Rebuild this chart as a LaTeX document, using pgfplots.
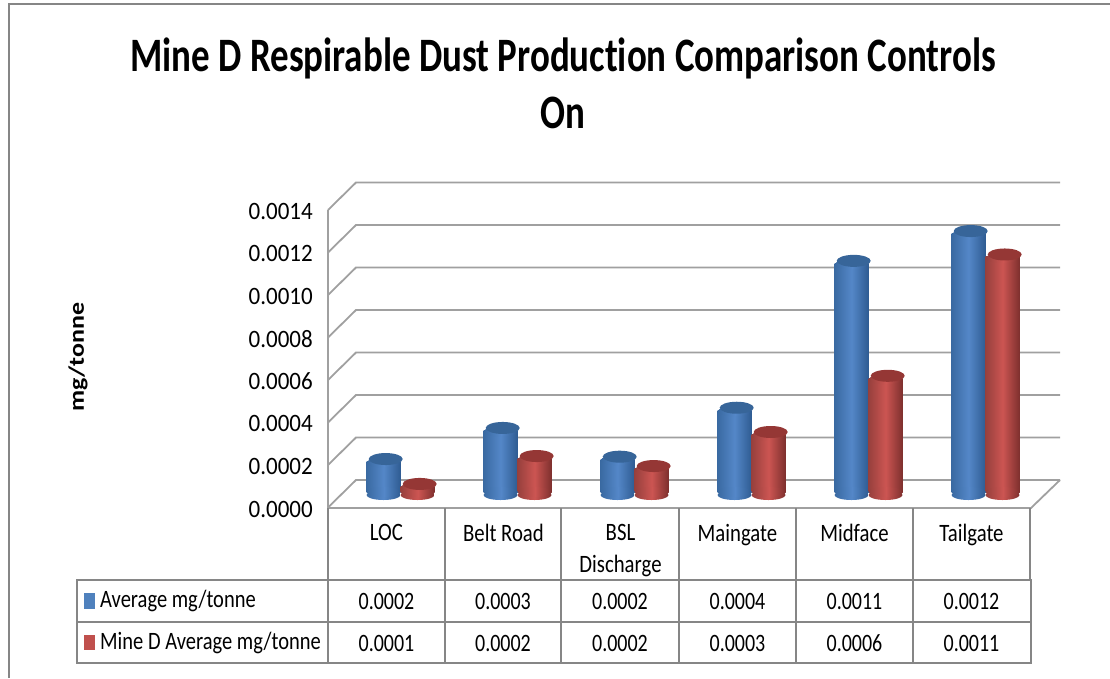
\documentclass[border=0pt]{standalone}
\usepackage{fontspec}
\usepackage{pgfplots}
\usepackage{pgfplotstable}
\pgfplotsset{compat=1.18}
\setmainfont{Carlito}
\newfontfamily\titlef[FakeStretch=0.77,Ligatures=NoCommon]{Carlito}
\newfontfamily\tickf[FakeStretch=0.92]{Carlito}
\newfontfamily\tabf[FakeStretch=0.80]{Carlito}
\newfontfamily\legf[FakeStretch=0.82,Ligatures=NoCommon]{Carlito}
\newfontfamily\catf[FakeStretch=0.83,Ligatures=NoCommon]{Carlito}
\newfontfamily\ylabf[FakeStretch=1.18]{Carlito}
\definecolor{gridc}{HTML}{A0A0A0}
\definecolor{tabc}{HTML}{868686}
\definecolor{bl}{HTML}{4F81BD}
\definecolor{blmid}{HTML}{5487C8}
\definecolor{blL}{HTML}{3A6AA2}
\definecolor{blR}{HTML}{2F5C92}
\definecolor{blcap}{HTML}{376599}
\definecolor{rd}{HTML}{C0504D}
\definecolor{rdmid}{HTML}{CC5552}
\definecolor{rdL}{HTML}{97403D}
\definecolor{rdR}{HTML}{7E302E}
\definecolor{rdcap}{HTML}{953735}
\tikzset{
  blshade/.style={draw=none,left color=blL,right color=blR,middle color=blmid},
  rdshade/.style={draw=none,left color=rdL,right color=rdR,middle color=rdmid},
}
\pgfdeclareplotmark{blbot}{%
  \path[blshade,rotate=10] (0pt,13pt) ellipse (17pt and 5pt);
  \path[blshade,rotate=10] (0.4pt,16pt) ellipse (17pt and 5pt);}
\pgfdeclareplotmark{rdbot}{%
  \path[rdshade,rotate=10] (0pt,13pt) ellipse (17pt and 5pt);
  \path[rdshade,rotate=10] (0.4pt,16pt) ellipse (17pt and 5pt);}
\pgfdeclareplotmark{bltop}{%
  \path[blshade,rotate=10] (0.4pt,9.5pt) ellipse (17pt and 5pt);
  \path[draw=none,fill=blcap,rotate=10] (2.2pt,13pt) ellipse (17pt and 6pt);}
\pgfdeclareplotmark{rdtop}{%
  \path[rdshade,rotate=10] (0.4pt,9.5pt) ellipse (17pt and 5pt);
  \path[draw=none,fill=rdcap,rotate=10] (2.2pt,13pt) ellipse (17pt and 6pt);}
\pgfplotstableread{
x   blue     red
0.5 0.000169 0.000052
1.5 0.000315 0.000183
2.5 0.000180 0.000136
3.5 0.000410 0.000296
4.5 0.001100 0.000560
5.5 0.001240 0.001130
}\dusttable
% one cylinder body: column, style, x offset, first row skipped up to #4, rows from #5 skipped
\newcommand\cylbody[5]{%
  \addplot[ybar,bar shift=0pt,bar width=34pt,#2,yshift=15.5pt,forget plot,
    skip coords between index={0}{#4},skip coords between index={#5}{6}]
  table[x expr=\thisrow{x}+0.1197+#3,y expr=\thisrow{#1}-0.0000235] {\dusttable};}
\begin{document}
\begin{tikzpicture}[x=1pt,y=-1pt]
\useasboundingbox (0,0) rectangle (1110,678);
% outer frame
\draw[tabc,line width=1.8pt] (9,678) -- (9,4) -- (1110,4);
% walls and gridlines
\foreach \yy in {210,252.5,295,337.5,380,422.5,465,507.5}{
  \pgfmathsetmacro\yb{\yy-27.5}
  \draw[gridc,line width=1.8pt] (328,\yy) -- (356,\yb) -- (1060,\yb);
}
\draw[gridc,line width=1.8pt] (328,210) -- (328,508);
\draw[gridc,line width=1.8pt] (328,508) -- (1031,508) -- (1060,480);
% data table
\begin{scope}[tabc,line width=1.7pt]
\draw (77,580) rectangle (1031,663);
\draw (77,622) -- (1031,622);
\foreach \xx in {328,445,561,679,796,913}{\draw (\xx,508) -- (\xx,663);}
\draw (1030,508) -- (1030,580);
\end{scope}
\fill[bl] (84,593) rectangle (95,609);
\fill[rd] (84,635) rectangle (95,650);
\node[anchor=west,inner sep=0pt,font=\legf\fontsize{25}{30}\selectfont] at (100,601) {Average mg/tonne};
\node[anchor=west,inner sep=0pt,font=\legf\fontsize{25}{30}\selectfont] at (100,643) {Mine D Average mg/tonne};
\foreach \xc/\a/\b in {386.5/0.0002/0.0001,503/0.0003/0.0002,620/0.0002/0.0002,737.5/0.0004/0.0003,854.5/0.0011/0.0006,971.5/0.0012/0.0011}{
  \node[inner sep=0pt,font=\tabf\fontsize{25}{30}\selectfont] at (\xc,601) {\a};
  \node[inner sep=0pt,font=\tabf\fontsize{25}{30}\selectfont] at (\xc,643) {\b};
}
\begin{axis}[
  at={(328pt,-508pt)}, anchor=south west,
  scale only axis, width=702pt, height=298pt,
  xmin=0, xmax=6, ymin=0, ymax=0.0014,
  clip=false,
  axis line style={draw=none},
  major tick length=0pt,
  tick style={draw=none},
  scaled y ticks=false,
  ytick={0,0.0002,0.0004,0.0006,0.0008,0.0010,0.0012,0.0014},
  yticklabel style={/pgf/number format/fixed,/pgf/number format/fixed zerofill,/pgf/number format/precision=4,/pgf/number format/assume math mode=true,font=\tickf\fontsize{25}{30}\selectfont,anchor=east,inner sep=0pt,xshift=-15pt,yshift=-1pt},
  xtick={0.5,1.5,2.5,3.5,4.5,5.5},
  xticklabels={LOC,Belt Road,{BSL\\Discharge},Maingate,Midface,Tailgate},
  xticklabel style={align=center,anchor=north,inner sep=0pt,yshift=-16pt,font=\catf\fontsize{25}{32}\selectfont},
  title={Mine D Respirable Dust Production Comparison Controls\\On},
  title style={at={(rel axis cs:0.3348,1.406)},anchor=center,align=center,inner sep=0pt,font=\titlef\bfseries\fontsize{48}{57}\selectfont},
  ylabel={mg/tonne},
  ylabel style={at={(rel axis cs:-0.356,0.507)},anchor=center,inner sep=0pt,font=\ylabf\bfseries\fontsize{22}{26}\selectfont},
]
% blue series
\addplot[only marks,mark=blbot,forget plot] table[x expr=\thisrow{x}+0.1197-0.1453,y expr=0] {\dusttable};
\cylbody{blue}{blshade}{-0.1453}{0}{1}
\cylbody{blue}{blshade}{-0.1453}{1}{2}
\cylbody{blue}{blshade}{-0.1453}{2}{3}
\cylbody{blue}{blshade}{-0.1453}{3}{4}
\cylbody{blue}{blshade}{-0.1453}{4}{5}
\cylbody{blue}{blshade}{-0.1453}{5}{6}
\addplot[only marks,mark=bltop,forget plot] table[x expr=\thisrow{x}+0.1197-0.1453,y=blue] {\dusttable};
% red series
\addplot[only marks,mark=rdbot,forget plot] table[x expr=\thisrow{x}+0.1197+0.1453,y expr=0] {\dusttable};
\cylbody{red}{rdshade}{0.1453}{0}{1}
\cylbody{red}{rdshade}{0.1453}{1}{2}
\cylbody{red}{rdshade}{0.1453}{2}{3}
\cylbody{red}{rdshade}{0.1453}{3}{4}
\cylbody{red}{rdshade}{0.1453}{4}{5}
\cylbody{red}{rdshade}{0.1453}{5}{6}
\addplot[only marks,mark=rdtop,forget plot] table[x expr=\thisrow{x}+0.1197+0.1453,y=red] {\dusttable};
\end{axis}
\end{tikzpicture}
\end{document}
